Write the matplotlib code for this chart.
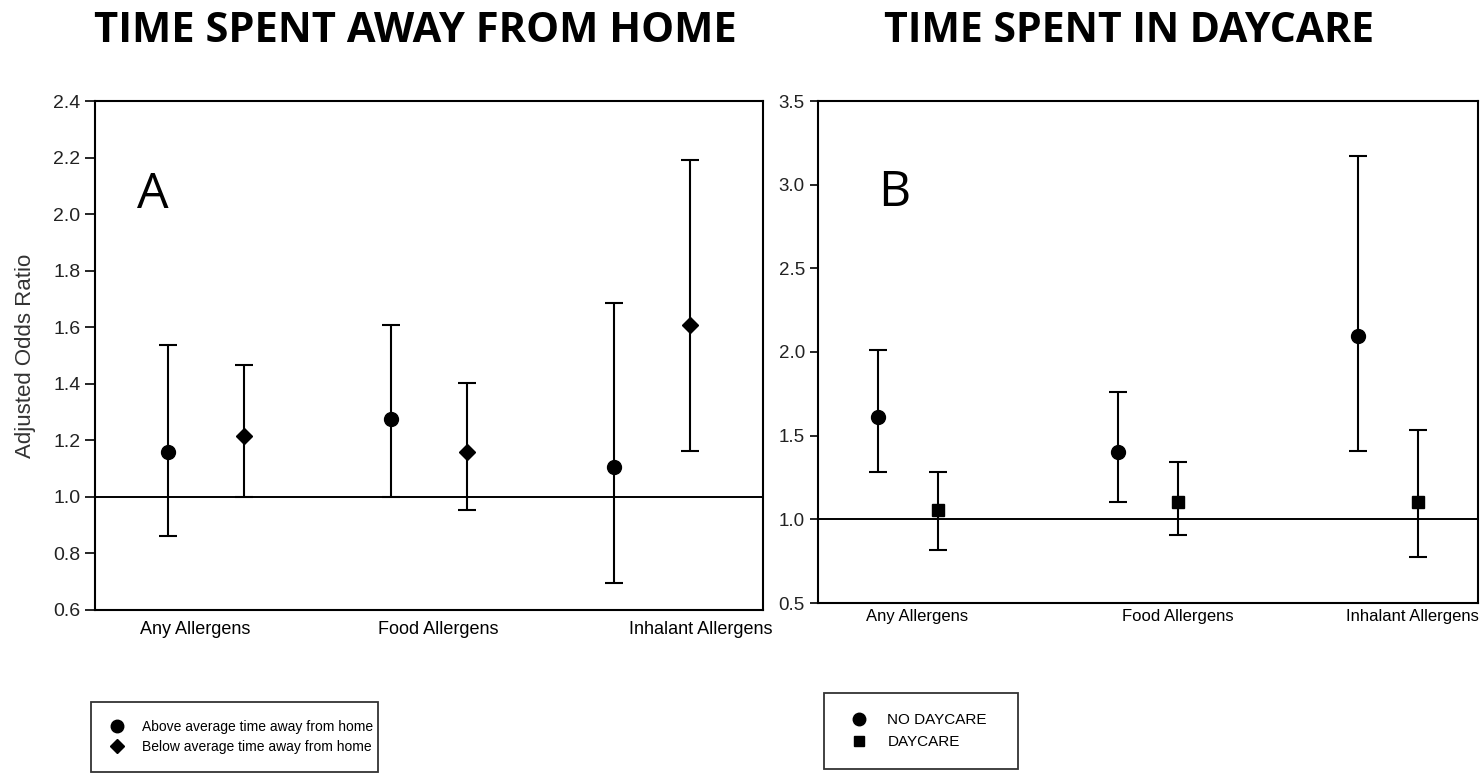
import matplotlib
matplotlib.use('Agg')
import matplotlib.pyplot as plt
from matplotlib.lines import Line2D
import numpy as np

categories = ['Any Allergens', 'Food Allergens', 'Inhalant Allergens']

# Panel A: time spent away from home
above_or = [1.16, 1.275, 1.105]
above_lo = [0.86, 1.00, 0.695]
above_hi = [1.536, 1.608, 1.684]
below_or = [1.215, 1.16, 1.608]
below_lo = [1.00, 0.952, 1.163]
below_hi = [1.468, 1.402, 2.193]
a_yticks = [0.6, 0.8, 1.0, 1.2, 1.4, 1.6, 1.8, 2.0, 2.2, 2.4]

# Panel B: time spent in daycare
nodc_or = [1.61, 1.404, 2.098]
nodc_lo = [1.283, 1.104, 1.411]
nodc_hi = [2.011, 1.760, 3.174]
dc_or = [1.053, 1.104, 1.104]
dc_lo = [0.817, 0.909, 0.777]
dc_hi = [1.283, 1.340, 1.536]
b_yticks = [0.5, 1.0, 1.5, 2.0, 2.5, 3.0, 3.5]

ARIAL = ['Liberation Sans', 'DejaVu Sans']
TITLEF = ['Open Sans', 'DejaVu Sans']

fig = plt.figure(figsize=(14.81, 7.75), dpi=100)
axA = fig.add_axes([95/1481, 1-610/775, 668/1481, 509/775])
axB = fig.add_axes([818/1481, 1-603/775, 660/1481, 502/775])

def err(orv, lo, hi):
    orv, lo, hi = map(np.asarray, (orv, lo, hi))
    return [orv - lo, hi - orv]

ekw = dict(color='black', ecolor='black', capsize=6.5, elinewidth=1.5, capthick=1.5, linestyle='none')
x = np.arange(len(categories))

# Panel A
axA.errorbar(x - 0.17, above_or, yerr=err(above_or, above_lo, above_hi), marker='o', ms=10, **ekw)
axA.errorbar(x + 0.17, below_or, yerr=err(below_or, below_lo, below_hi), marker='D', ms=8, **ekw)
axA.axhline(1.0, color='black', lw=1.4)
axA.set_xlim(-0.5, 2.5)
axA.set_ylim(0.6, 2.4)
axA.set_yticks(a_yticks)
axA.set_yticklabels([f'{v:.1f}' for v in a_yticks], fontsize=14, family=ARIAL, color='#222222')
axA.set_xticks([-0.05, 1.04, 2.22])
axA.set_xticklabels(categories, fontsize=13, family=ARIAL)
axA.tick_params(axis='x', length=0, pad=8)
axA.tick_params(axis='y', length=7, width=1.2, direction='out')
axA.set_ylabel('Adjusted Odds Ratio', fontsize=16, family=ARIAL, color='#333333', labelpad=12)
axA.text(0.063, 0.79, 'A', transform=axA.transAxes, fontsize=36, family=TITLEF, va='baseline')

# Panel B
axB.errorbar(x - 0.125, nodc_or, yerr=err(nodc_or, nodc_lo, nodc_hi), marker='o', ms=10, **ekw)
axB.errorbar(x + 0.125, dc_or, yerr=err(dc_or, dc_lo, dc_hi), marker='s', ms=8, **ekw)
axB.axhline(1.0, color='black', lw=1.4)
axB.set_xlim(-0.377, 2.375)
axB.set_ylim(0.5, 3.5)
axB.set_yticks(b_yticks)
axB.set_yticklabels([f'{v:.1f}' for v in b_yticks], fontsize=13.5, family=ARIAL, color='#222222')
axB.set_xticks([0.035, 1.125, 2.1])
axB.set_xticklabels(categories, fontsize=12, family=ARIAL)
axB.tick_params(axis='x', length=0, pad=4)
axB.tick_params(axis='y', length=6, width=1.2, direction='out')
axB.text(0.091, 0.79, 'B', transform=axB.transAxes, fontsize=36, family=TITLEF, va='baseline')

for ax in (axA, axB):
    for s in ax.spines.values():
        s.set_linewidth(1.5)

# Titles
fig.text(415/1481, 1-31/775, 'TIME SPENT AWAY FROM HOME', ha='center', va='center',
         fontsize=30, fontweight='bold', family=TITLEF)
fig.text(1129/1481, 1-31/775, 'TIME SPENT IN DAYCARE', ha='center', va='center',
         fontsize=29.5, fontweight='bold', family=TITLEF)

# Legends
hA = [Line2D([], [], marker='o', color='black', ls='none', ms=9),
      Line2D([], [], marker='D', color='black', ls='none', ms=7)]
legA = fig.legend(hA, ['Above average time away from home', 'Below average time away from home'],
                  loc='upper left', bbox_to_anchor=(91/1481, 1-702/775, 287/1481, 0),
                  mode='expand', borderaxespad=0,
                  frameon=True, fancybox=False, edgecolor='black', borderpad=1.3,
                  handlelength=1.2, handletextpad=1.2, labelspacing=0.45,
                  prop={'family': ARIAL, 'size': 10})
legA.get_frame().set_linewidth(1.3)

hB = [Line2D([], [], marker='o', color='black', ls='none', ms=9),
      Line2D([], [], marker='s', color='black', ls='none', ms=7.5)]
legB = fig.legend(hB, ['NO DAYCARE', 'DAYCARE'],
                  loc='upper left', bbox_to_anchor=(824/1481, 1-693/775, 194/1481, 0),
                  mode='expand', borderaxespad=0,
                  frameon=True, fancybox=False, edgecolor='black', borderpad=1.3,
                  handlelength=2.0, handletextpad=0.85, labelspacing=0.55,
                  prop={'family': ARIAL, 'size': 11})
legB.get_frame().set_linewidth(1.3)

fig.savefig('out.png', dpi=100)
